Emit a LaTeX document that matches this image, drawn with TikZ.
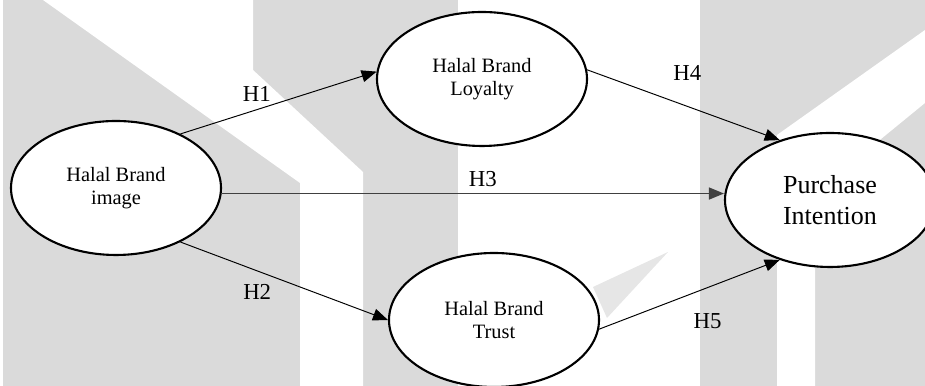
\documentclass[tikz,border=0pt]{standalone}
\usepackage{fontspec}
\setmainfont{Liberation Serif}
\usetikzlibrary{shapes.geometric,arrows.meta}

\definecolor{wmgray}{HTML}{DADADA}
\definecolor{wmlight}{HTML}{E6E6E6}

\tikzset{
  construct/.style={ellipse, draw, fill=white, line width=1.2pt,
    minimum width=4.2cm, minimum height=2.68cm, inner sep=0pt,
    align=center, font=\fontsize{11.6}{13}\selectfont},
  link/.style={-{Triangle[length=0.3cm,width=0.24cm]}, line width=0.55pt},
  hyp/.style={font=\fontsize{13}{15}\selectfont},
}

\begin{document}
\begin{tikzpicture}
  \useasboundingbox (0,0) rectangle (18.5,7.72);

  % Watermark in the background
  \fill[wmgray] (0.06,0) rectangle (9.16,7.72);
  \fill[wmgray] (14.0,0) rectangle (18.5,7.72);
  \fill[white] (0.86,7.72) -- (5.06,7.72) -- (5.06,6.32) -- (7.26,4.28)
        -- (7.26,0) -- (6.0,0) -- (6.0,4.06) -- cycle;
  \fill[white] (15.54,0) -- (15.54,5.02) -- (18.5,7.12) -- (18.5,5.66)
        -- (16.3,3.86) -- (16.3,0) -- cycle;
  \fill[wmlight] (11.86,1.98) -- (13.36,2.68) -- (12.14,1.36) -- cycle;

  % Constructs
  \node[construct] (img) at (2.32,3.96) {Halal Brand\\image};
  \node[construct] (loy) at (9.64,6.14) {Halal Brand\\Loyalty};
  \node[construct] (tru) at (9.88,1.32) {Halal Brand\\Trust};
  \node[construct, font=\fontsize{14.8}{17.6}\selectfont] (pur) at (16.6,3.72)
        {Purchase\\Intention};

  % Hypotheses
  \draw[link] (img.40) -- node[hyp, pos=0.39, above=1pt] (h1) {H1} (loy.176);
  \draw[link] (img.-40) -- node[hyp, pos=0.37, below=4pt] (h2) {H2} (tru.west);
  \draw[link, line width=0.85pt, black!75] (img.-3)
        -- node[hyp, pos=0.52, above, black] (h3) {H3} (img.-3 -| pur.west);
  \draw[link] (loy.5) -- node[hyp, pos=0.52, above=11pt] (h4) {H4} (pur.130);
  \draw[link] (tru.-5) -- node[hyp, pos=0.6, below=11pt] (h5) {H5} (pur.-130);
\end{tikzpicture}
\end{document}
